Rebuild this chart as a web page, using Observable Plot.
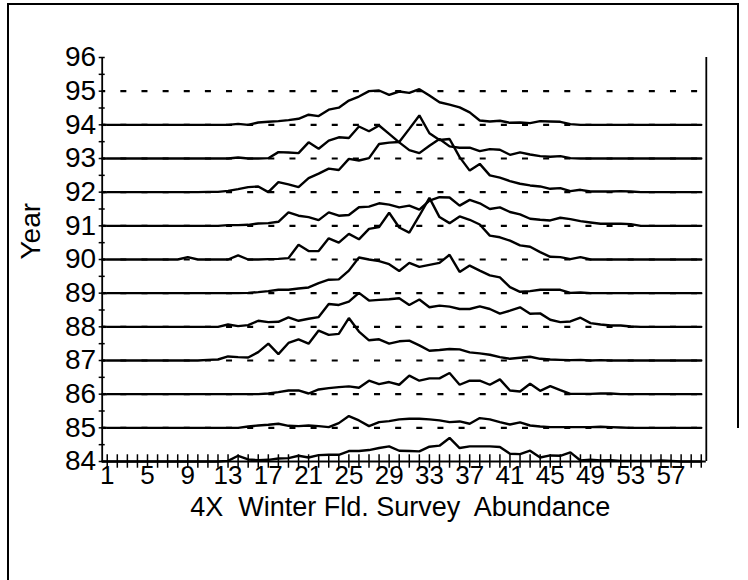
<!DOCTYPE html>
<html><head><meta charset="utf-8">
<script src="https://cdn.jsdelivr.net/npm/d3@7"></script>
<script src="https://cdn.jsdelivr.net/npm/@observablehq/plot@0.6"></script>
<style>
html,body{margin:0;padding:0;background:#fff;}
#wrap{position:relative;width:748px;height:580px;overflow:hidden;background:#fff;}
#chart{position:absolute;left:0;top:0;}
.bl{position:absolute;background:#000;pointer-events:none;z-index:5;}
svg text{white-space:pre;}
</style></head><body>
<div id="wrap">
  <div id="chart"></div>
  <div class="bl" style="left:7px;top:3px;width:2px;height:577px;"></div>
  <div class="bl" style="left:7px;top:3px;width:732px;height:2px;"></div>
  <div class="bl" style="left:737px;top:3px;width:2px;height:425px;"></div>
</div>
<script>
// length classes (x categories)
const lengthClasses = [1,2,3,4,5,6,7,8,9,10,11,12,13,14,15,16,17,18,19,20,21,22,23,24,25,26,27,28,29,30,31,32,33,34,35,36,37,38,39,40,41,42,43,44,45,46,47,48,49,50,51,52,53,54,55,56,57,58,59,60];
const xTickLabels = [1,5,9,13,17,21,25,29,33,37,41,45,49,53,57];
const yearLabels = [84,85,86,87,88,89,90,91,92,93,94,95,96];
const gridYears = [85,86,87,88,89,90,91,92,93,94,95];
const yMinorTicks = [84,84.5,85,85.5,86,86.5,87,87.5,88,88.5,89,89.5,90,90.5,91,91.5,92,92.5,93,93.5,94,94.5,95,95.5,96];
const years = [84,85,86,87,88,89,90,91,92,93,94];

// abundance (in year-units above each year's baseline)
const ab84 = [0,0,0,0,0,0,0,0,0,0,0,0,0.02,0.17,0.06,0.04,0.05,0.09,0.10,0.17,0.12,0.19,0.20,0.20,0.31,0.31,0.34,0.40,0.45,0.32,0.31,0.30,0.44,0.47,0.70,0.40,0.45,0.45,0.45,0.43,0.23,0.22,0.32,0.12,0.18,0.17,0.27,0.03,0.05,0.03,0.04,0.02,0.02,0.02,0.02,0.03,0.02,0,0,0];
const ab85 = [0,0,0,0,0,0,0,0,0,0,0,0,0,0,0.04,0.07,0.09,0.12,0.06,0.05,0.07,0.05,0.02,0.14,0.35,0.22,0.05,0.17,0.20,0.25,0.27,0.27,0.25,0.22,0.17,0.19,0.12,0.29,0.25,0.17,0.10,0.16,0.07,0.04,0.02,0.02,0.02,0.02,0.02,0.03,0.02,0.01,0,0,0,0,0,0,0,0];
const ab86 = [0,0,0,0,0,0,0,0,0,0,0,0,0,0,0,0,0.02,0.06,0.11,0.11,0.02,0.14,0.18,0.21,0.23,0.19,0.40,0.30,0.36,0.28,0.55,0.40,0.47,0.47,0.63,0.28,0.40,0.40,0.28,0.44,0.11,0.08,0.31,0.10,0.24,0.12,0.01,0.01,0.01,0.02,0.02,0,0,0,0,0,0,0,0,0];
const ab87 = [0,0,0,0,0,0,0,0,0,0,0.02,0.03,0.12,0.10,0.09,0.25,0.50,0.19,0.52,0.63,0.50,0.89,0.76,0.79,1.26,0.86,0.60,0.63,0.50,0.57,0.59,0.45,0.29,0.31,0.34,0.33,0.24,0.21,0.17,0.10,0.05,0.08,0.11,0.05,0.03,0.02,0.01,0.02,0,0.01,0,0,0,0,0,0,0,0,0,0];
const ab88 = [0,0,0,0,0,0,0,0,0,0,0,0,0.07,0.02,0.05,0.18,0.14,0.15,0.28,0.18,0.24,0.29,0.68,0.65,0.75,1.01,0.78,0.80,0.82,0.85,0.65,0.81,0.58,0.63,0.60,0.53,0.53,0.61,0.53,0.39,0.48,0.58,0.39,0.40,0.21,0.14,0.16,0.27,0.11,0.07,0.04,0.04,0.01,0,0,0,0,0,0,0];
const ab89 = [0,0,0,0,0,0,0,0,0,0,0,0,0,0,0.01,0.03,0.06,0.10,0.10,0.14,0.17,0.30,0.40,0.41,0.67,1.06,1.00,0.95,0.86,0.66,0.90,0.78,0.84,0.90,1.14,0.63,0.82,0.67,0.53,0.47,0.18,0.04,0.06,0.10,0.10,0.10,0.01,0.02,0,0,0,0,0,0,0,0,0,0,0,0];
const ab90 = [0,0,0,0,0,0,0,0,0.07,0,0,0,0,0.12,0,0,0.01,0.02,0.04,0.44,0.25,0.25,0.63,0.50,0.76,0.60,0.91,0.96,1.39,0.95,0.80,1.30,1.83,1.26,1.08,1.28,1.18,1.04,0.71,0.66,0.56,0.42,0.38,0.22,0.08,0.07,0.01,0.07,0,0,0,0,0,0,0,0,0,0,0,0];
const ab91 = [0,0,0,0,0,0,0,0,0,0,0,0,0.02,0.02,0.03,0.07,0.08,0.12,0.40,0.30,0.26,0.17,0.40,0.30,0.32,0.55,0.57,0.67,0.63,0.55,0.60,0.48,0.75,0.85,0.84,0.60,0.77,0.67,0.50,0.55,0.41,0.34,0.21,0.18,0.16,0.24,0.20,0.14,0.10,0.06,0.06,0.06,0.05,0,0,0,0,0,0,0];
const ab92 = [0,0,0,0,0,0,0,0,0,0,0.01,0.01,0.04,0.09,0.15,0.17,0,0.30,0.23,0.15,0.42,0.55,0.70,0.66,0.99,0.94,1.01,1.43,1.47,1.49,1.88,2.28,1.75,1.55,1.58,1.04,0.64,0.84,0.50,0.43,0.33,0.25,0.20,0.17,0.10,0.12,0.03,0.07,0.02,0.02,0.02,0.03,0.02,0,0,0,0,0,0,0];
const ab93 = [0,0,0,0,0,0,0,0,0,0,0,0,0,0.03,0,0,0.01,0.19,0.18,0.16,0.48,0.29,0.53,0.63,0.61,0.95,0.81,0.98,0.73,0.48,0.25,0.16,0.38,0.58,0.36,0.32,0.32,0.22,0.28,0.26,0.11,0.18,0.12,0.07,0.05,0.07,0.01,0,0,0,0,0,0,0,0,0,0,0,0,0];
const ab94 = [0,0,0,0,0,0,0,0,0,0,0,0,0,0.03,0,0.07,0.09,0.11,0.14,0.18,0.30,0.26,0.45,0.51,0.72,0.84,1.00,1.02,0.89,0.99,0.95,1.06,0.87,0.67,0.60,0.52,0.37,0.13,0.10,0.12,0.06,0.07,0.05,0.11,0.10,0.09,0.02,0,0,0,0,0,0,0,0,0,0,0,0,0];

const series = [ab84,ab85,ab86,ab87,ab88,ab89,ab90,ab91,ab92,ab93,ab94];
const rows = years.flatMap((yr, i) => series[i].map((a, j) => ({year: yr, len: lengthClasses[j], value: yr + a})));

const xDomain = [0.5, 60.5];
const yDomain = [84, 96];
const FONT = "'Liberation Sans', Arial, Helvetica, sans-serif";

const chart = Plot.plot({
  width: 748,
  height: 580,
  marginLeft: 101.7,
  marginRight: 42.2,
  marginTop: 57,
  marginBottom: 119,
  style: {fontFamily: FONT, fontSize: "27px", color: "#000", background: "transparent"},
  x: {domain: xDomain},
  y: {domain: yDomain},
  marks: [
    Plot.ruleY(gridYears, {y: d => d, x1: () => xDomain[0], x2: () => xDomain[1], stroke: "#000", strokeWidth: 2.2, strokeDasharray: "6,15.14", strokeDashoffset: 2.5}),
    Plot.ruleY(years, {y: d => d, x1: () => xDomain[0], x2: () => lengthClasses[0], stroke: "#000", strokeWidth: 2.4}),
    Plot.line(rows, {x: "len", y: "value", z: "year", stroke: "#000", strokeWidth: 2.4, strokeLinejoin: "miter"}),
    Plot.ruleX([xDomain[0]], {y1: () => yDomain[0], y2: () => yDomain[1], stroke: "#000", strokeWidth: 1.8}),
    Plot.ruleX([xDomain[1]], {y1: () => yDomain[0], y2: () => yDomain[1], stroke: "#000", strokeWidth: 1.8}),
    Plot.ruleY([yDomain[0]], {x1: () => xDomain[0], x2: () => xDomain[1], stroke: "#000", strokeWidth: 1.8}),
    Plot.ruleX(lengthClasses, {x: d => d, y1: () => 83.8, y2: () => 84.2, stroke: "#000", strokeWidth: 1.5}),
    Plot.ruleY(yMinorTicks, {y: d => d, x1: () => 0.2, x2: () => 0.8, stroke: "#000", strokeWidth: 1.5}),
    Plot.axisX(xTickLabels, {tickSize: 0, tickPadding: 4, fontSize: 26, label: null}),
    Plot.axisY(yearLabels, {tickSize: 0, tickPadding: 6, fontSize: 28, label: null, tickFormat: d => String(d)}),
    Plot.text(["4X  Winter Fld. Survey  Abundance"], {frameAnchor: "bottom", dy: 46, dx: -4, fontSize: 27, lineAnchor: "middle", fill: "#000"}),
    Plot.text(["Year"], {frameAnchor: "left", dx: -71, rotate: -90, fontSize: 28, lineAnchor: "middle", fill: "#000"})
  ]
});
document.getElementById("chart").appendChild(chart);
</script>
</body></html>
